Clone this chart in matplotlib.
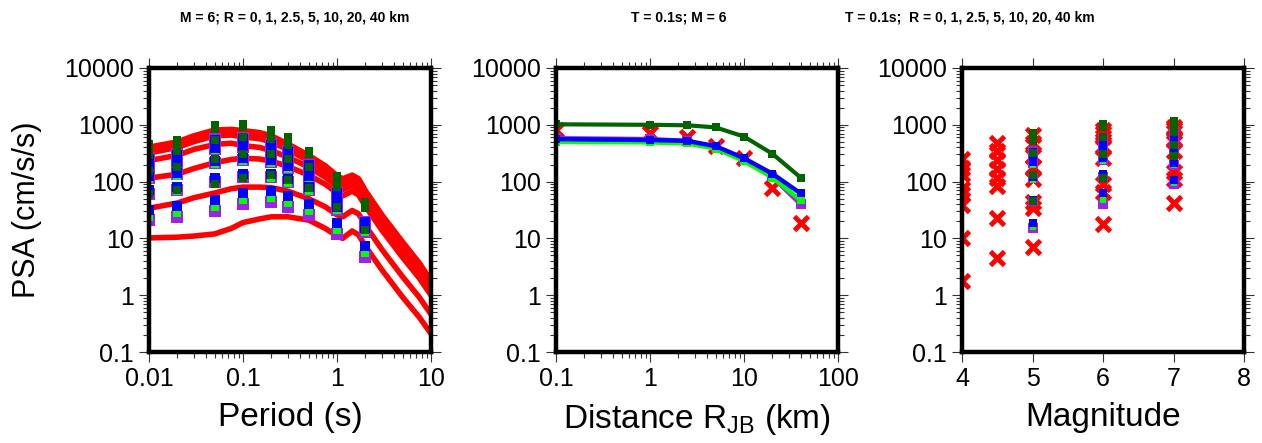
import matplotlib
matplotlib.use("Agg")
import matplotlib.pyplot as plt
import numpy as np

plt.rcParams['font.family'] = ['Liberation Sans', 'DejaVu Sans']
plt.rcParams['mathtext.fontset'] = 'custom'
plt.rcParams['mathtext.rm'] = 'Liberation Sans'

# colours (GMT style)
RED = '#ff0000'
DKGREEN = '#006400'
BLUE = '#0000ff'
LIME = '#00ff00'
PURPLE = '#a020f0'

distances = [0, 1, 2.5, 5, 10, 20, 40]

# ---- panel 1: spectra for M = 6 ----
curve_periods = [0.01, 0.02, 0.03, 0.05, 0.075, 0.1, 0.15, 0.2, 0.3, 0.5,
                 0.75, 1.0, 1.15, 1.45, 1.7, 2.0, 3.0, 5.0, 7.5, 10.0]
curve_r0 = [405, 500, 640, 810, 830, 790, 730, 640, 460, 290, 190, 128, 112, 130, 112, 70, 26, 8.6, 3.7, 1.8]
curve_r1 = [360, 450, 570, 720, 740, 700, 650, 570, 410, 260, 170, 115, 100, 117, 100, 63, 23.5, 7.8, 3.3, 1.6]
curve_r2p5 = [318, 400, 505, 640, 660, 610, 570, 500, 365, 232, 152, 102, 89, 104, 89, 56, 21, 7.0, 3.0, 1.45]
curve_r5 = [235, 290, 370, 450, 475, 430, 400, 350, 270, 180, 120, 82, 72, 86, 74, 47, 17.5, 5.8, 2.5, 1.25]
curve_r10 = [115, 135, 170, 215, 245, 258, 250, 230, 185, 130, 90, 63, 56, 68, 58, 37, 14, 4.6, 2.0, 1.0]
curve_r20 = [34, 42, 52, 63, 75, 80, 80, 78, 68, 50, 36, 26, 24, 31, 27, 17, 6.4, 2.1, 0.92, 0.46]
curve_r40 = [10.2, 10.5, 11, 12, 15, 19, 22, 24, 24, 21, 15, 11, 10, 13.5, 11.5, 7.3, 2.8, 0.92, 0.41, 0.21]

obs_periods = [0.01, 0.02, 0.05, 0.1, 0.2, 0.3, 0.5, 1.0, 2.0]
# rows = periods, columns = distances
dg_spec = [[460, 450, 440, 410, 295, 155, 61],
           [530, 520, 510, 475, 345, 180, 71],
           [1000, 975, 945, 840, 545, 255, 89],
           [1020, 1000, 980, 900, 620, 310, 118],
           [795, 785, 775, 740, 570, 310, 130],
           [600, 595, 590, 570, 445, 250, 106],
           [350, 350, 350, 350, 300, 180, 77],
           [112, 115, 118, 125, 118, 80, 35],
           [34, 35, 37, 40, 43, 35, 14]]
blue_spec = [[255, 245, 236, 195, 124, 70, 32],
             [290, 280, 270, 225, 144, 80, 37],
             [550, 530, 505, 395, 228, 114, 47],
             [560, 540, 520, 420, 258, 138, 62],
             [440, 425, 410, 345, 237, 138, 68],
             [330, 320, 310, 265, 186, 112, 56],
             [195, 190, 185, 165, 125, 80, 40],
             [62, 62, 62, 60, 50, 36, 19],
             [19, 19, 19.5, 19.5, 18, 15, 7.4]]
lime_spec = [[230, 225, 215, 176, 110, 60, 24],
             [262, 256, 245, 202, 128, 68, 28],
             [490, 480, 455, 360, 205, 98, 36],
             [500, 490, 470, 380, 230, 118, 47],
             [395, 385, 370, 310, 212, 118, 52],
             [300, 292, 282, 240, 166, 96, 42],
             [176, 172, 167, 150, 112, 68, 30],
             [56, 56, 56, 54, 45, 31, 14],
             [17, 17, 17.5, 17.5, 16, 13, 5.6]]
purple_spec = [[265, 255, 240, 186, 115, 61, 21],
               [300, 290, 275, 214, 134, 70, 24],
               [570, 550, 505, 375, 212, 99, 30],
               [580, 560, 520, 400, 240, 120, 40],
               [455, 440, 410, 330, 220, 120, 44],
               [345, 335, 310, 255, 172, 97, 36],
               [200, 195, 185, 160, 116, 70, 26],
               [64, 64, 62, 58, 47, 32, 12],
               [19.5, 19.5, 19.5, 19, 17, 13, 4.7]]

# ---- panel 2: T = 0.1 s, M = 6, vs distance (R = 0 drawn at 0.1 km) ----
dist_plot = [0.1, 1, 2.5, 5, 10, 20, 40]
red_dist = [810, 730, 620, 425, 258, 76, 18.5]
dg_dist = [1020, 1000, 980, 900, 620, 310, 118]
blue_dist = [560, 540, 520, 420, 258, 138, 62]
lime_dist = [500, 490, 470, 380, 230, 118, 47]
purple_dist = [580, 560, 520, 400, 240, 120, 40]

# ---- panel 3: T = 0.1 s vs magnitude ----
red_mags = [4, 4.5, 5, 6, 7]
red_mag_vals = [[250, 175, 135, 75, 60, 39, 10, 1.8],
                [480, 350, 240, 170, 118, 82, 23, 4.6],
                [660, 470, 280, 180, 112, 44, 34, 7],
                [810, 730, 620, 425, 258, 92, 66, 18],
                [930, 850, 740, 560, 340, 150, 110, 42]]
obs_mags = [5, 6, 7]
dg_mag = [[720, 700, 660, 520, 320, 130, 46],
          [1020, 1000, 980, 900, 620, 310, 118],
          [1150, 1130, 1100, 1000, 740, 440, 280]]
blue_mag = [[330, 315, 290, 220, 120, 48, 19],
            [560, 540, 520, 420, 258, 138, 62],
            [720, 700, 650, 520, 330, 210, 105]]
lime_mag = [[300, 290, 265, 200, 108, 44, 16],
            [500, 490, 470, 380, 230, 118, 47],
            [660, 640, 600, 510, 340, 195, 95]]
purple_mag = [[350, 330, 300, 215, 115, 45, 15],
              [580, 560, 520, 400, 240, 120, 40],
              [760, 730, 680, 560, 370, 200, 90]]

fig = plt.figure(figsize=(12.62, 4.43), dpi=100)
W, H = 1262.0, 443.0
lefts = [149, 556, 962]
axes = []
for lx in lefts:
    ax = fig.add_axes([lx / W, 1 - 352 / H, 282 / W, 284 / H])
    axes.append(ax)

def style(ax):
    ax.set_yscale('log')
    ax.set_ylim(0.1, 10000)
    ax.set_yticks([0.1, 1, 10, 100, 1000, 10000])
    ax.set_yticklabels(['0.1', '1', '10', '100', '1000', '10000'])
    for s in ax.spines.values():
        s.set_linewidth(3.2)
        s.set_zorder(10)
    ax.tick_params(which='both', direction='out', top=True, right=True,
                   labelsize=18, width=0.8, color='#333333', pad=4)
    ax.tick_params(which='major', length=7)
    ax.tick_params(which='minor', length=4)

# panel 1
ax = axes[0]
for c in [curve_r0, curve_r1, curve_r2p5, curve_r5, curve_r10, curve_r20, curve_r40]:
    ax.plot(curve_periods, c, color=RED, lw=4.0, solid_capstyle='round')
for tbl, col, ms in [(purple_spec, PURPLE, 9.2), (lime_spec, LIME, 5.2),
                     (blue_spec, BLUE, 7.0), (dg_spec, DKGREEN, 6.0)]:
    for p, row in zip(obs_periods, tbl):
        ax.plot([p] * len(row), row, 's', color=col, ms=ms, mew=0, ls='none')
ax.set_xscale('log')
ax.set_xlim(0.01, 10)
ax.set_xticks([0.01, 0.1, 1, 10])
ax.set_xticklabels(['0.01', '0.1', '1', '10'])
style(ax)
ax.set_xlabel('Period (s)', fontsize=24, labelpad=8)
ax.set_ylabel('PSA (cm/s/s)', fontsize=22, labelpad=16)

# panel 2
ax = axes[1]
ax.plot(dist_plot, red_dist, 'x', color=RED, ms=10, mew=3.5, ls='none')
ax.plot(dist_plot, purple_dist, '-s', color=PURPLE, lw=3.2, ms=6.5, mew=0)
ax.plot(dist_plot, lime_dist, '-s', color=LIME, lw=3.2, ms=6.0, mew=0)
ax.plot(dist_plot, blue_dist, '-s', color=BLUE, lw=3.2, ms=6.0, mew=0)
ax.plot(dist_plot, dg_dist, '-s', color=DKGREEN, lw=3.0, ms=6.0, mew=0)
ax.set_xscale('log')
ax.set_xlim(0.1, 100)
ax.set_xticks([0.1, 1, 10, 100])
ax.set_xticklabels(['0.1', '1', '10', '100'])
style(ax)
ax.set_xlabel(r'Distance R$_{\mathrm{JB}}$ (km)', fontsize=24, labelpad=8)

# panel 3
ax = axes[2]
for m, vals in zip(red_mags, red_mag_vals):
    ax.plot([m] * len(vals), vals, 'x', color=RED, ms=10, mew=3.5, ls='none')
for tbl, col, ms in [(purple_mag, PURPLE, 7.2), (lime_mag, LIME, 5.0),
                     (blue_mag, BLUE, 5.8), (dg_mag, DKGREEN, 5.8)]:
    for m, row in zip(obs_mags, tbl):
        ax.plot([m] * len(row), row, 's', color=col, ms=ms, mew=0, ls='none')
ax.set_xlim(4, 8)
ax.set_xticks([4, 5, 6, 7, 8])
style(ax)
ax.minorticks_off()
ax.set_yticks([0.1, 1, 10, 100, 1000, 10000])
ax.yaxis.set_minor_locator(matplotlib.ticker.LogLocator(base=10, subs=np.arange(2, 10)))
ax.yaxis.set_minor_formatter(matplotlib.ticker.NullFormatter())
ax.set_xlabel('Magnitude', fontsize=24, labelpad=8)

fig.text(295 / W, 1 - 18 / H, 'M = 6; R = 0, 1, 2.5, 5, 10, 20, 40 km',
         ha='center', va='center', fontsize=10, fontweight='bold')
fig.text(679 / W, 1 - 18 / H, 'T = 0.1s; M = 6',
         ha='center', va='center', fontsize=10, fontweight='bold')
fig.text(970 / W, 1 - 18 / H, 'T = 0.1s;  R = 0, 1, 2.5, 5, 10, 20, 40 km',
         ha='center', va='center', fontsize=10, fontweight='bold')

fig.savefig('out.png', dpi=100)
